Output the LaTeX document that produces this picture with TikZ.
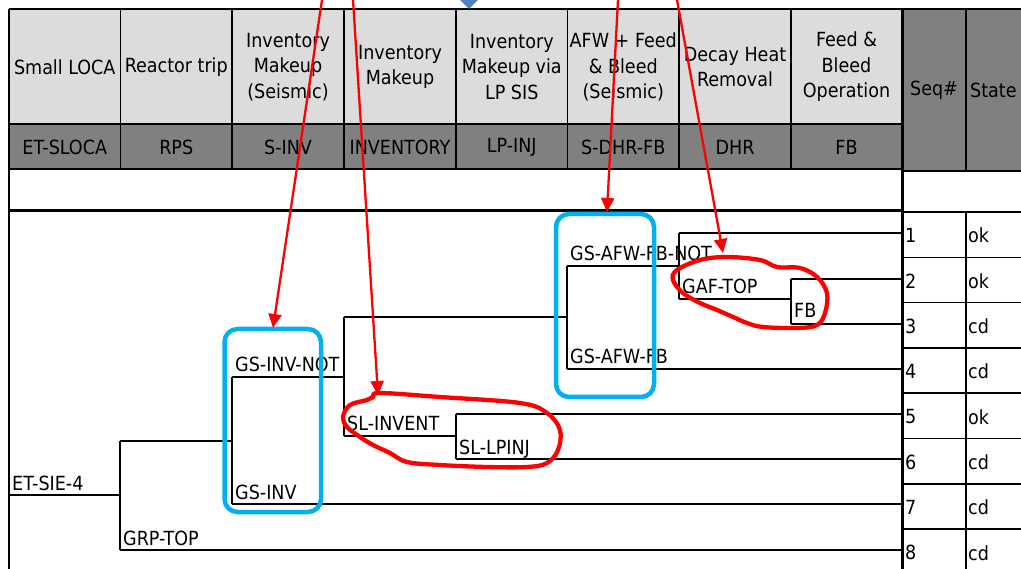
\documentclass[tikz,border=0pt]{standalone}
\usepackage{fontspec}
\setmainfont{DejaVu Sans Condensed}
\usetikzlibrary{arrows.meta,shapes.geometric}
\definecolor{hdrlight}{HTML}{DCDCDC}
\definecolor{hdrdark}{HTML}{808080}
\definecolor{hlblue}{HTML}{00B0F0}
\definecolor{diamondblue}{HTML}{4F81BD}
\begin{document}
\begin{tikzpicture}[x=1pt,y=-1pt,
  lbl/.style={font=\fontsize{19.5}{25.5}\selectfont, inner sep=0pt, align=center},
  tlbl/.style={font=\fontsize{19.5}{25.5}\selectfont, inner sep=0pt, anchor=base west},
  seqlbl/.style={font=\fontsize{19.5}{25.5}\selectfont, inner sep=0pt, anchor=west},
  gridline/.style={line width=1.4pt},
  thickline/.style={line width=3pt},
  tree/.style={line width=1.1pt},
  hl/.style={draw=hlblue, line width=4.5pt, rounded corners=13pt},
  ann/.style={draw=red, line width=2.3pt, -{Triangle[length=14pt,width=13pt]}},
  scrib/.style={draw=red, line width=4.3pt, line join=round}
]
\useasboundingbox (0,0) rectangle (1021,569);
\clip (0,0) rectangle (1021,569);
\fill[white] (0,0) rectangle (1021,569);

% header fills
\fill[hdrlight] (9,9) rectangle (902,124);
\fill[hdrdark] (9,124) rectangle (902,169);
\fill[hdrdark] (902,9) rectangle (1021,171);

% grid
\draw[gridline] (9,9) -- (1021,9);
\draw[gridline] (9,9) -- (9,569);
\foreach \x in {120.5,232,344,456,567.5,679,791}
  \draw[gridline] (\x,9) -- (\x,169);
\draw[gridline] (9,124) -- (902,124);
\draw[gridline] (9,169) -- (902,169);
\draw[thickline] (9,211) -- (902,211);
\draw[gridline] (902,171) -- (1021,171);
\draw[gridline] (966,9) -- (966,171);
\draw[gridline] (966,212) -- (966,569);
\foreach \y in {212,257.3,302.6,347.9,393.2,438.5,483.8,529.1}
  \draw[gridline] (902,\y) -- (1021,\y);
\draw[thickline] (902,9) -- (902,569);

% header texts
\node[lbl] (h1) at (64.75,67) {Small LOCA};
\node[lbl] (h2) at (176.25,67) {Reactor trip};
\node[lbl] (h3) at (288,67) {Inventory\\Makeup\\(Seismic)};
\node[lbl] (h4) at (400,67) {Inventory\\Makeup};
\node[lbl] (h5) at (511.75,67) {Inventory\\Makeup via\\LP SIS};
\node[lbl] (h6) at (623.25,67) {AFW + Feed\\\& Bleed\\(Seismic)};
\node[lbl] (h7) at (735,67) {Decay Heat\\Removal};
\node[lbl] (h8) at (846.5,67) {Feed \&\\Bleed\\Operation};
\node[lbl] (c1) at (64.75,147) {ET-SLOCA};
\node[lbl] (c2) at (176.25,147) {RPS};
\node[lbl] (c3) at (288,147) {S-INV};
\node[lbl] (c4) at (400,147) {INVENTORY};
\node[lbl] (c5) at (511.75,147) {LP-INJ};
\node[lbl] (c6) at (623.25,147) {S-DHR-FB};
\node[lbl] (c7) at (735,147) {DHR};
\node[lbl] (c8) at (846.5,147) {FB};
\node[lbl] (hs) at (934,90) {Seq\#};
\node[seqlbl] (hst) at (970,90) {State};

% sequence table
\foreach \i/\st in {1/ok,2/ok,3/cd,4/cd,5/ok,6/cd,7/cd,8/cd}{
  \pgfmathsetmacro{\yc}{212+45.3*(\i-0.5)+1}
  \node[seqlbl] (sq\i) at (905,\yc) {\i};
  \node[seqlbl] (st\i) at (968,\yc) {\st};
}

% event tree coordinates
\coordinate (et) at (9,495);
\coordinate (b1) at (120,495);
\coordinate (b1u) at (120,441); \coordinate (b1d) at (120,550);
\coordinate (b2u) at (232,377); \coordinate (b2d) at (232,504); \coordinate (b2) at (232,441);
\coordinate (b3u) at (344,317); \coordinate (b3d) at (344,436); \coordinate (b3) at (344,377);
\coordinate (b4u) at (456,414); \coordinate (b4d) at (456,459); \coordinate (b4) at (456,436);
\coordinate (b5u) at (567,266); \coordinate (b5d) at (567,369); \coordinate (b5) at (567,317);
\coordinate (b6u) at (679,233); \coordinate (b6d) at (679,299); \coordinate (b6) at (679,266);
\coordinate (b7u) at (791,279); \coordinate (b7d) at (791,324); \coordinate (b7) at (791,299);
\coordinate (e1) at (902,233); \coordinate (e2) at (902,279); \coordinate (e3) at (902,324);
\coordinate (e4) at (902,369); \coordinate (e5) at (902,414); \coordinate (e6) at (902,459);
\coordinate (e7) at (902,504); \coordinate (e8) at (902,550);

\draw[tree] (et) -- (b1);
\draw[tree] (b1u) -- (b1d);
\draw[tree] (b1u) -- (b2); \draw[tree] (b1d) -- (e8);
\draw[tree] (b2u) -- (b2d);
\draw[tree] (b2u) -- (b3); \draw[tree] (b2d) -- (e7);
\draw[tree] (b3u) -- (b3d);
\draw[tree] (b3u) -- (b5); \draw[tree] (b3d) -- (b4);
\draw[tree] (b4u) -- (b4d);
\draw[tree] (b4u) -- (e5); \draw[tree] (b4d) -- (e6);
\draw[tree] (b5u) -- (b5d);
\draw[tree] (b5u) -- (b6); \draw[tree] (b5d) -- (e4);
\draw[tree] (b6u) -- (b6d);
\draw[tree] (b6u) -- (e1); \draw[tree] (b6d) -- (b7);
\draw[tree] (b7u) -- (b7d);
\draw[tree] (b7u) -- (e2); \draw[tree] (b7d) -- (e3);

% tree labels
\node[tlbl] (l0) at (12,490) {ET-SIE-4};
\node[tlbl] (l1) at (123,545) {GRP-TOP};
\node[tlbl] (l2) at (235,372) {GS-INV-NOT};
\node[tlbl] (l3) at (235,499) {GS-INV};
\node[tlbl] (l4) at (347,431) {SL-INVENT};
\node[tlbl] (l5) at (459,454) {SL-LPINJ};
\node[tlbl] (l6) at (570,261) {GS-AFW-FB-NOT};
\node[tlbl] (l7) at (570,364) {GS-AFW-FB};
\node[tlbl] (l8) at (682,294) {GAF-TOP};
\node[tlbl] (l9) at (794,318) {FB};

% blue highlight boxes
\draw[hl] (224.5,329) rectangle (321,512);
\draw[hl] (556,214) rectangle (654,397);

% diamond at top
\node[diamond, fill=diamondblue, minimum width=20pt, minimum height=20pt, inner sep=0pt] (dm) at (469,-1) {};

% red freehand loops
\draw[scrib] plot[smooth cycle, tension=0.6] coordinates {
 (373,397) (380,393) (440,397) (520,403) (547,413) (560,430) (558,450) (547,463)
 (527,467) (487,467) (440,465) (407,462) (390,453) (373,445) (360,437) (347,427)
 (343,417) (350,405) (367,400)};
\draw[scrib] plot[smooth cycle, tension=0.6] coordinates {
 (677,270) (700,260) (727,257) (760,260) (777,267) (800,268) (817,277) (827,293)
 (825,313) (817,325) (797,328) (763,327) (747,323) (733,317) (717,310) (700,303)
 (683,293) (673,280)};

% red arrows
\coordinate (a1s) at (323.5,-10); \coordinate (a1e) at (273,328);
\coordinate (a2s) at (352.4,-10); \coordinate (a2e) at (378,395);
\coordinate (a3s) at (618.5,-10); \coordinate (a3e) at (607,212);
\coordinate (a4s) at (675.2,-10); \coordinate (a4e) at (723,253);
\draw[ann] (a1s) -- (a1e);
\draw[ann] (a2s) -- (a2e);
\draw[ann] (a3s) -- (a3e);
\draw[ann] (a4s) -- (a4e);
\end{tikzpicture}
\end{document}
